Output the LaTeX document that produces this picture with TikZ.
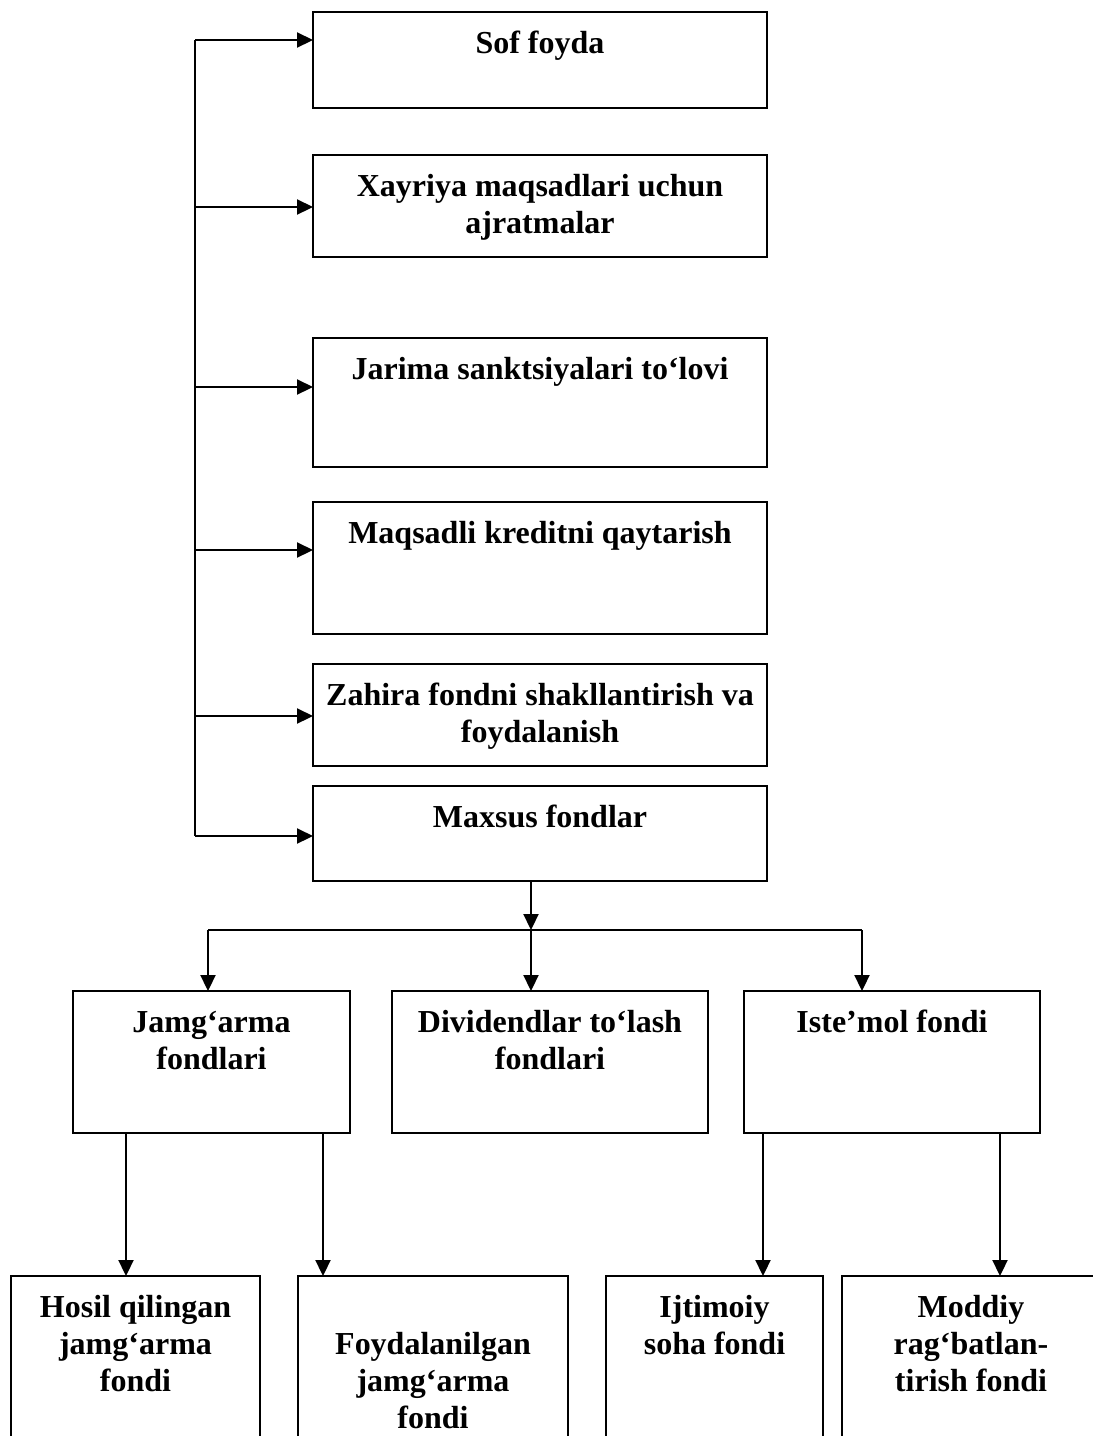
\documentclass[tikz,border=0pt]{standalone}
\usepackage{fontspec}
\setmainfont{Liberation Serif}
\usetikzlibrary{arrows.meta}
\tikzset{box/.style={draw, line width=1.9pt, inner sep=0pt, outer sep=0pt, anchor=north west},
  lbl/.style={font=\fontsize{32}{37}\selectfont\bfseries, align=center, anchor=north, inner sep=0pt},
  line/.style={line width=2.2pt},
  arr/.style={line width=2.2pt, -{Triangle[length=16pt,width=15pt]}}}
\begin{document}
\begin{tikzpicture}[x=1pt,y=-1pt]
  \useasboundingbox (0,0) rectangle (1093,1436);
  \clip (0,0) rectangle (1093,1436);
  % upper column
  \node[box, minimum width=454pt, minimum height=96pt] (sof) at (313,12) {};
  \node[box, minimum width=454pt, minimum height=102pt] (xay) at (313,155) {};
  \node[box, minimum width=454pt, minimum height=129pt] (jar) at (313,338) {};
  \node[box, minimum width=454pt, minimum height=132pt] (maq) at (313,502) {};
  \node[box, minimum width=454pt, minimum height=102pt] (zah) at (313,664) {};
  \node[box, minimum width=454pt, minimum height=95pt] (max) at (313,786) {};
  \node[lbl] (sofT) at ([yshift=-15pt]sof.north) {\strut Sof foyda};
  \node[lbl] (xayT) at ([yshift=-15pt]xay.north) {\strut Xayriya maqsadlari uchun\\ajratmalar};
  \node[lbl] (jarT) at ([yshift=-15pt]jar.north) {\strut Jarima sanktsiyalari to‘lovi};
  \node[lbl] (maqT) at ([yshift=-15pt]maq.north) {\strut Maqsadli kreditni qaytarish};
  \node[lbl] (zahT) at ([yshift=-15pt]zah.north) {\strut Zahira fondni shakllantirish va\\foydalanish};
  \node[lbl] (maxT) at ([yshift=-15pt]max.north) {\strut Maxsus fondlar};
  % middle row
  \node[box, minimum width=277pt, minimum height=142pt] (jam) at (73,991) {};
  \node[box, minimum width=316pt, minimum height=142pt] (div) at (392,991) {};
  \node[box, minimum width=296pt, minimum height=142pt] (ist) at (744,991) {};
  \node[lbl] (jamT) at ([yshift=-15pt]jam.north) {\strut Jamg‘arma\\fondlari};
  \node[lbl] (divT) at ([yshift=-15pt]div.north) {\strut Dividendlar to‘lash\\fondlari};
  \node[lbl] (istT) at ([yshift=-15pt]ist.north) {\strut Iste’mol fondi};
  % bottom row
  \node[box, minimum width=249pt, minimum height=200pt] (hos) at (11,1276) {};
  \node[box, minimum width=270pt, minimum height=200pt] (foy) at (298,1276) {};
  \node[box, minimum width=217pt, minimum height=200pt] (ijt) at (606,1276) {};
  \node[box, minimum width=258pt, minimum height=200pt] (mod) at (842,1276) {};
  \node[lbl] (hosT) at ([yshift=-15pt]hos.north) {\strut Hosil qilingan\\jamg‘arma\\fondi};
  \node[lbl] (foyT) at ([yshift=-52pt]foy.north) {\strut Foydalanilgan\\jamg‘arma\\fondi};
  \node[lbl] (ijtT) at ([yshift=-15pt]ijt.north) {\strut Ijtimoiy\\soha fondi};
  \node[lbl] (modT) at ([yshift=-15pt]mod.north) {\strut Moddiy\\rag‘batlan-\\tirish fondi};

  % left trunk
  \coordinate (tTop) at (195,40);
  \coordinate (tBot) at (195,836);
  \draw[line] (tTop) -- (tBot);
  \foreach \b/\y in {sof/40, xay/207, jar/387, maq/550, zah/716, max/836}{
    \coordinate (t\b) at (195,\y);
    \draw[arr] (t\b) -- (t\b -| \b.west);
  }

  % bus under Maxsus fondlar
  \coordinate (busL) at (208,930);
  \coordinate (busM) at (531,930);
  \coordinate (busR) at (862,930);
  \draw[arr] (busM |- max.south) -- (busM);
  \draw[line] (busL) -- (busR);
  \draw[arr] (busL) -- (busL |- jam.north);
  \draw[arr] (busM) -- (busM |- div.north);
  \draw[arr] (busR) -- (busR |- ist.north);

  % down to the funds
  \draw[arr] ([xshift=53pt]jam.south west) -- ([xshift=53pt]jam.south west |- hos.north);
  \draw[arr] ([xshift=-27pt]jam.south east) -- ([xshift=-27pt]jam.south east |- foy.north);
  \draw[arr] ([xshift=19pt]ist.south west) -- ([xshift=19pt]ist.south west |- ijt.north);
  \draw[arr] ([xshift=-40pt]ist.south east) -- ([xshift=-40pt]ist.south east |- mod.north);
\end{tikzpicture}
\end{document}
